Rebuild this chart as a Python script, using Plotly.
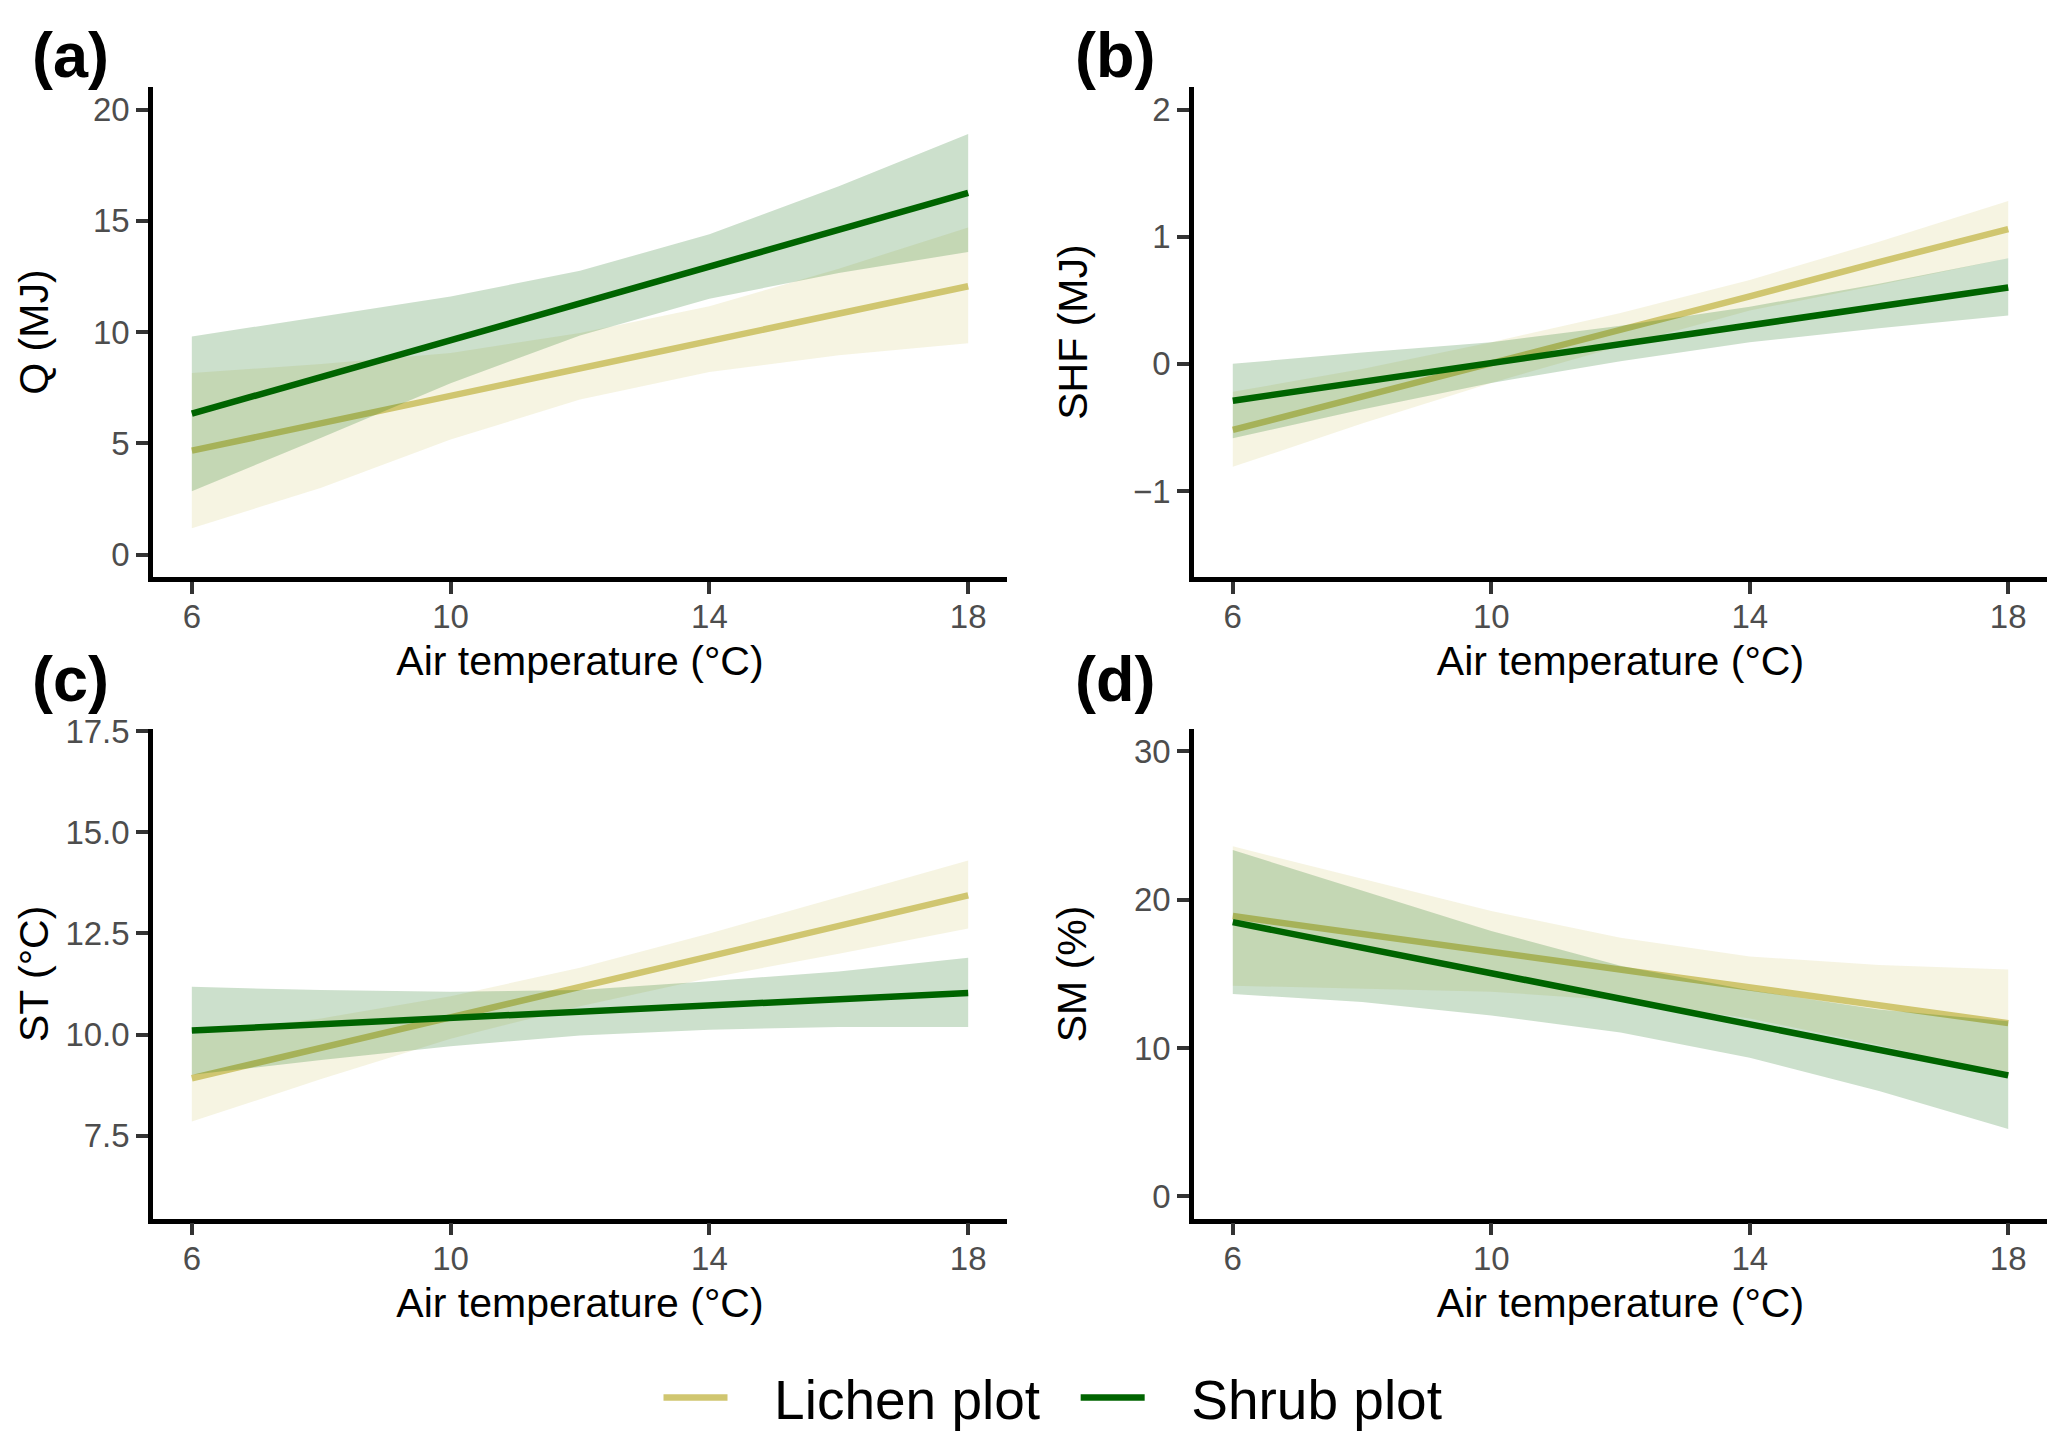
import plotly.graph_objects as go

# ---------------- data ----------------
air_temp = [6, 8, 10, 12, 14, 16, 18]

# (a) Q (MJ)
q_lichen_fit = [4.67, 5.90, 7.13, 8.37, 9.60, 10.83, 12.06]
q_lichen_hi = [8.16, 8.56, 9.06, 9.96, 11.16, 12.85, 14.70]
q_lichen_lo = [1.18, 3.00, 5.17, 6.97, 8.20, 8.96, 9.50]
q_shrub_fit = [6.33, 7.98, 9.64, 11.29, 12.95, 14.60, 16.25]
q_shrub_hi = [9.80, 10.70, 11.60, 12.75, 14.40, 16.55, 18.90]
q_shrub_lo = [2.85, 5.25, 7.70, 9.85, 11.50, 12.65, 13.60]

# (b) SHF (MJ)
shf_lichen_fit = [-0.52, -0.26, 0.01, 0.27, 0.53, 0.80, 1.06]
shf_lichen_hi = [-0.22, -0.04, 0.17, 0.40, 0.66, 0.96, 1.28]
shf_lichen_lo = [-0.81, -0.47, -0.15, 0.14, 0.42, 0.62, 0.83]
shf_shrub_fit = [-0.29, -0.14, 0.01, 0.16, 0.30, 0.45, 0.60]
shf_shrub_hi = [0.00, 0.09, 0.17, 0.30, 0.45, 0.63, 0.83]
shf_shrub_lo = [-0.585, -0.36, -0.15, 0.02, 0.17, 0.28, 0.38]

# (c) ST (°C)
st_lichen_fit = [8.92, 9.67, 10.43, 11.18, 11.93, 12.69, 13.44]
st_lichen_hi = [10.00, 10.40, 10.95, 11.65, 12.50, 13.40, 14.30]
st_lichen_lo = [7.85, 8.90, 9.90, 10.70, 11.40, 12.00, 12.62]
st_shrub_fit = [10.10, 10.25, 10.41, 10.56, 10.72, 10.87, 11.03]
st_shrub_hi = [11.18, 11.10, 11.06, 11.10, 11.32, 11.56, 11.90]
st_shrub_lo = [9.01, 9.37, 9.71, 9.98, 10.12, 10.19, 10.19]

# (d) SM (%)
sm_lichen_fit = [18.90, 17.70, 16.49, 15.29, 14.09, 12.89, 11.68]
sm_lichen_hi = [23.60, 21.40, 19.24, 17.43, 16.18, 15.60, 15.30]
sm_lichen_lo = [14.20, 14.00, 13.80, 13.20, 12.00, 10.20, 8.10]
sm_shrub_fit = [18.49, 16.77, 15.05, 13.32, 11.60, 9.88, 8.16]
sm_shrub_hi = [23.35, 20.60, 17.90, 15.55, 13.90, 12.60, 11.80]
sm_shrub_lo = [13.65, 13.10, 12.20, 11.05, 9.35, 7.10, 4.55]

x_ticks = [6, 10, 14, 18]
panel_letters = ["(a)", "(b)", "(c)", "(d)"]
y_titles = ["Q (MJ)", "SHF (MJ)", "ST (°C)", "SM (%)"]
x_title = "Air temperature (°C)"
group_names = ["Lichen plot", "Shrub plot"]

# ---------------- style ----------------
W, H = 2067, 1449
OX, OY = -11, -24   # compensation for page offset of the rendered figure
LICHEN = "#D0C670"
SHRUB = "#006400"
LICHEN_FILL = "rgba(208,198,112,0.2)"
SHRUB_FILL = "rgba(0,100,0,0.2)"
FONT = "Liberation Sans, Arial, Helvetica, sans-serif"
GAP = "\u00a0\u00a0\u2009"


def px(xv):
    return (xv + OX) / W


def py(yv):
    return 1 - (yv + OY) / H


panels = [
    dict(lf=q_lichen_fit, lh=q_lichen_hi, ll=q_lichen_lo,
         sf=q_shrub_fit, sh=q_shrub_hi, sl=q_shrub_lo,
         yrange=[-1.0, 21.0], ytick=[0, 5, 10, 15, 20], ytext=None, standoff=33),
    dict(lf=shf_lichen_fit, lh=shf_lichen_hi, ll=shf_lichen_lo,
         sf=shf_shrub_fit, sh=shf_shrub_hi, sl=shf_shrub_lo,
         yrange=[-1.675, 2.175], ytick=[-1, 0, 1, 2], ytext=["\u22121", "0", "1", "2"], standoff=34),
    dict(lf=st_lichen_fit, lh=st_lichen_hi, ll=st_lichen_lo,
         sf=st_shrub_fit, sh=st_shrub_hi, sl=st_shrub_lo,
         yrange=[5.45, 17.55], ytick=[7.5, 10, 12.5, 15, 17.5],
         ytext=["7.5", "10.0", "12.5", "15.0", "17.5"], standoff=6),
    dict(lf=sm_lichen_fit, lh=sm_lichen_hi, ll=sm_lichen_lo,
         sf=sm_shrub_fit, sh=sm_shrub_hi, sl=sm_shrub_lo,
         yrange=[-1.5, 31.5], ytick=[0, 10, 20, 30], ytext=None, standoff=36),
]

xdom_left = [px(156), px(1010)]
xdom_right = [px(1197), px(2050)]
ydom_top = [py(583), py(88)]
ydom_bot = [py(1232), py(737)]
domains = [(xdom_left, ydom_top), (xdom_right, ydom_top),
           (xdom_left, ydom_bot), (xdom_right, ydom_bot)]

fig = go.Figure()

for i, p in enumerate(panels):
    ax = "" if i == 0 else str(i + 1)
    xa, ya = "x" + ax, "y" + ax
    band_x = air_temp + air_temp[::-1]
    fig.add_trace(go.Scatter(x=band_x, y=p["lh"] + p["ll"][::-1], xaxis=xa, yaxis=ya,
                             fill="toself", fillcolor=LICHEN_FILL, line=dict(width=0),
                             mode="lines", showlegend=False, hoverinfo="skip"))
    fig.add_trace(go.Scatter(x=air_temp, y=p["lf"], xaxis=xa, yaxis=ya, mode="lines",
                             line=dict(color=LICHEN, width=6.5),
                             name=GAP + group_names[0] + "\u00a0\u00a0",
                             showlegend=(i == 0), legendrank=1))
    fig.add_trace(go.Scatter(x=band_x, y=p["sh"] + p["sl"][::-1], xaxis=xa, yaxis=ya,
                             fill="toself", fillcolor=SHRUB_FILL, line=dict(width=0),
                             mode="lines", showlegend=False, hoverinfo="skip"))
    fig.add_trace(go.Scatter(x=air_temp, y=p["sf"], xaxis=xa, yaxis=ya, mode="lines",
                             line=dict(color=SHRUB, width=6.5),
                             name=GAP + group_names[1],
                             showlegend=(i == 0), legendrank=2))

    xd, yd = domains[i]
    common = dict(showline=True, linecolor="black", linewidth=4.5, ticks="outside",
                  ticklen=12, tickwidth=3.5, tickcolor="#333333", showgrid=False,
                  zeroline=False, mirror=False,
                  tickfont=dict(family=FONT, size=33, color="#4D4D4D"))
    fig.layout["xaxis" + ax] = dict(common, domain=xd, range=[5.4, 18.6],
                                    tickvals=x_ticks, anchor=ya, ticklabelstandoff=-5,
                                    title=dict(text=x_title, standoff=14,
                                               font=dict(family=FONT, size=41, color="black")))
    yaxis = dict(common, domain=yd, range=p["yrange"], tickvals=p["ytick"], anchor=xa,
                 title=dict(text=y_titles[i], standoff=p["standoff"],
                            font=dict(family=FONT, size=41, color="black")))
    if p["ytext"] is not None:
        yaxis["ticktext"] = p["ytext"]
    fig.layout["yaxis" + ax] = yaxis

# panel letters (top ones kept just inside the drawable area)
letter_pos = [(33, 55), (1076, 55), (33, 686), (1076, 686)]
for lab, (lx, ly) in zip(panel_letters, letter_pos):
    fig.add_annotation(text="<b>" + lab + "</b>", x=px(lx), y=py(ly), xref="paper", yref="paper",
                       xanchor="left", yanchor="middle",
                       showarrow=False, font=dict(family=FONT, size=63, color="black"))

fig.update_layout(
    width=W, height=H,
    margin=dict(l=0, r=0, t=0, b=0),
    paper_bgcolor="white", plot_bgcolor="white",
    showlegend=True,
    legend=dict(orientation="h", x=px(1056), xanchor="center", y=py(1413), yanchor="middle",
                font=dict(family=FONT, size=55, color="black"),
                itemwidth=64, tracegroupgap=0, bgcolor="rgba(0,0,0,0)"),
)

fig.write_html("out.html")
